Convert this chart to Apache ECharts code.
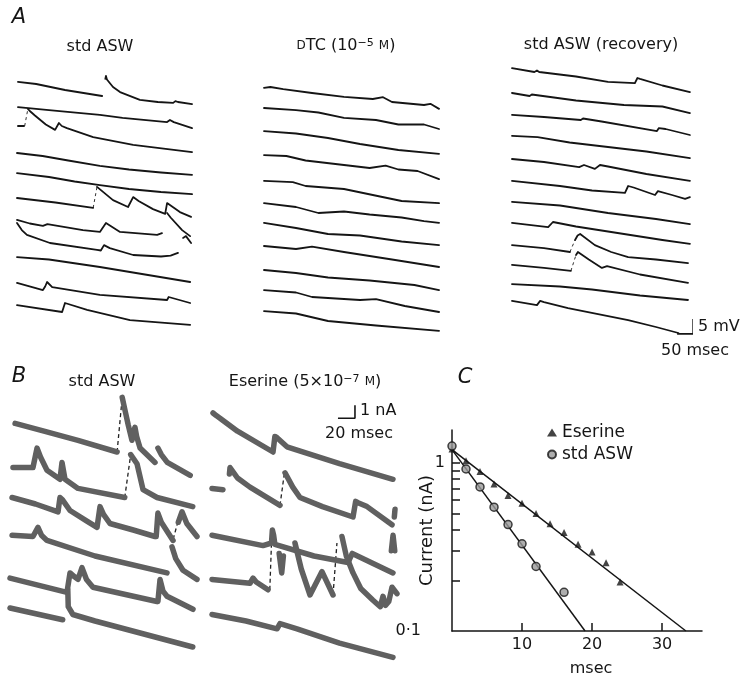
<!DOCTYPE html>
<html><head><meta charset="utf-8">
<script src="https://cdn.jsdelivr.net/npm/echarts@6/dist/echarts.min.js"></script>
<style>html,body{margin:0;padding:0;background:#fff}#c{width:747px;height:678px}</style>
</head><body><div id="c"></div><script>
// ---------- Panel A: membrane potential traces (x: msec, y: mV display level) ----------
const aStdTraces = [
  [[[3,92.7],[60,92],[150,90],[266,88]], [[276,93.7],[278,94.7],[281,93.5],[300,91],[322,89.3],[384,86.7],[440,86],[488,85.7],[495,86.3],[503,86],[547,85.3]]],
  [[[3,84.3],[100,83.3],[200,82.3],[259,81.7],[265,82.2],[330,80.7],[469,79.3],[478,80],[490,79.3],[547,77.3]]],
  [[[3,78],[22,78]], [[34,83.7],[40,83],[56,81.5],[90,78.5],[119,76.7],[125,77],[131,79],[140,78],[156,77.3],[238,74.3],[363,71.7],[547,69.3]]],
  [[[0,69],[80,68],[160,66.5],[259,64.7],[350,63.5],[450,62.5],[547,61.7]]],
  [[[0,62.3],[100,61],[180,59.5],[259,58.3],[350,57],[450,56],[547,55.3]]],
  [[[0,54],[120,52.5],[238,50.7]], [[250,57.7],[256,58],[300,53.3],[347,51],[363,54.3],[380,53],[425,50.3],[463,48.7],[469,52.3],[509,49.3],[544,47.7]]],
  [[[0,46.7],[40,45.5],[81,44.7],[95,45.3],[206,43.3],[259,42.7],[278,45.7],[322,42.7],[438,41.7],[453,42.3]], [[469,49],[480,47.5],[516,43.3],[541,41.3]]],
  [[[0,45.7],[15,43.3],[31,41.7],[103,39],[250,36.7],[262,36.5],[272,38.3],[290,37.3],[363,35],[450,34.5],[480,34.8],[503,35.7]], [[519,40.7],[528,41.3],[544,39]]],
  [[[0,34.3],[100,33.5],[259,31],[400,28.5],[541,26]]],
  [[[0,25.7],[81,23.3],[88,24.5],[94,26],[110,24.3],[259,21.7],[469,20],[474,21],[541,19]]],
  [[[0,18.3],[141,16],[150,19],[156,19],[219,16.7],[353,13.3],[541,11.7]]]
];
const aStdRises = [[[24,78],[34,83.7]], [[238,50.7],[250,57.7]]];

const aDtcTraces = [
  [[[0,90.7],[20,91],[60,90.3],[150,89],[250,87.7],[340,87],[372,87.6],[400,86],[500,85],[520,85.4],[547,83.7]]],
  [[[0,84],[100,83.3],[170,82.5],[250,80.7],[350,80],[420,78.5],[500,78.5],[547,77]]],
  [[[0,76.3],[100,75.5],[200,74],[300,72],[420,70],[547,68.7]]],
  [[[0,68.3],[70,68],[130,66.5],[250,65],[330,64],[380,64.8],[420,63.5],[480,63],[547,60.3]]],
  [[[0,59.7],[90,59.3],[130,58],[250,57],[340,55],[430,53],[547,52.3]]],
  [[[0,52.3],[100,51],[170,49],[250,49.5],[330,48.5],[430,47.5],[500,46.3],[547,45.7]]],
  [[[0,45.7],[100,44],[200,42],[300,41.5],[430,39.5],[547,38.3]]],
  [[[0,38],[100,37],[150,37.8],[250,36],[400,33.5],[547,31]]],
  [[[0,30],[100,29],[200,27.5],[330,26.5],[470,25],[547,23.3]]],
  [[[0,23.3],[100,22.5],[150,21],[300,20],[350,20.3],[440,18],[547,16]]],
  [[[0,16.3],[100,15.5],[200,13],[350,11.5],[547,9.7]]]
];

const aRecTraces = [
  [[[0,97.3],[70,96],[78,96.5],[85,96],[200,94.5],[300,92.7],[384,92.3],[392,94],[400,93.7],[470,91.5],[556,89.3]]],
  [[[0,89],[55,88],[62,88.5],[200,86.5],[350,85],[470,84.5],[556,82.3]]],
  [[[0,81.7],[100,81],[215,80],[222,80.5],[280,79.5],[453,76.3],[459,77.3],[480,77],[556,75]]],
  [[[0,74.7],[80,74.3],[180,72.5],[300,71],[420,69.5],[556,67.3]]],
  [[[0,67],[100,66],[210,64.3],[225,65],[259,63.7],[275,65],[300,64.5],[420,62],[556,59.7]]],
  [[[0,59.7],[150,58],[250,56.5],[353,55.7],[363,58],[380,57.5],[447,55],[456,56.3],[500,55],[541,53.7],[556,54.3]]],
  [[[0,52.7],[150,51.5],[300,49],[450,47],[556,45.3]]],
  [[[0,45.7],[113,44.3],[128,46],[200,44.5],[350,42],[470,40],[556,38.7]]],
  [[[0,38.3],[100,37.3],[181,36]], [[197,40],[205,41.5],[213,42],[259,38.3],[310,36],[363,34.3],[450,33.5],[550,32.3]]],
  [[[0,31.7],[100,30.7],[184,29.7]], [[200,35],[206,36],[240,33.5],[281,30.7],[297,31.3],[400,28.5],[550,25.7]]],
  [[[0,25.3],[150,24.5],[250,23.5],[400,21.5],[550,20]]],
  [[[0,19.7],[78,18.3],[88,19.7],[100,19.3],[175,17.3],[363,13.3],[450,11],[520,9]]]
];
const aRecRises = [[[181,36],[197,40]], [[184,29.7],[200,35]]];
const aScaleBar = [[516,8.7],[566,8.7],[566,13.7]];   // 50 msec, 5 mV

// ---------- Panel B: current traces (x: msec, y: nA display level) ----------
const bStdTraces = [
  [[[6,18.2],[40,17.6],[80,16.9],[126,16]], [[132,20.2],[136,19],[139,18.1],[143.5,16.9],[145,17.5],[147,17.9],[149,17.2],[153,16.3],[170.6,15.2]], [[174,16.3],[178,15.8],[185,15.2],[212,14.2]]],
  [[[3.5,14.8],[27,14.8],[31.8,16.3],[36,15.6],[43.5,14.6],[58.8,13.9],[61.2,15.2],[64.7,13.9],[80,13.2],[135,12.5]], [[142,15.8],[149.4,15.1],[156.5,13.1],[173,12.5],[215,11.8]]],
  [[[2.4,12.5],[30,12],[56.5,11.4],[58.8,12.5],[62,12.3],[70.6,11.5],[90,10.7],[102.4,10.2],[105.9,11.8],[110,11.2],[117.6,10.5],[145,10],[170.6,9.5]], [[172,9.5],[174,11.3],[178,10.6],[191.8,9.2]], [[198,10.6],[202.4,11.4],[208,10.5],[220,9.5]]],
  [[[2.4,9.6],[27,9.5],[32.9,10.2],[37,9.6],[43.5,9.2],[100,8],[184.7,6.7]], [[190.6,8.7],[195,7.8],[203.5,6.9],[220,6.2]]],
  [[[0,6.3],[67,5.2],[70.6,6.7],[76,6.4],[80,6.2],[84.7,7.1],[90,6.2],[97.6,5.6],[172.9,4.5]], [[174,4.5],[176.5,6.2],[180,5.3],[184.7,4.9],[215.3,3.9]]],
  [[[0,4],[62,3.1]], [[68,5.4],[68.5,4.1],[74,3.5],[100,3],[215,1]]]
];
const bStdRises = [[[126,16],[132,20.2]], [[135,12.5],[142,15.8]], [[192,9.3],[197,10.5]]];

const bEseTraces = [
  [[[1.2,19],[5,18.8],[9.4,18.6],[30,17.6],[71.8,16],[74,17.2],[76.5,17.1],[88.2,16.4],[150,15.1],[212.9,13.9]]],
  [[[0,13.2],[12.9,13.1]], [[20.5,14.3],[21.2,14.8],[30,14],[44.7,13.3],[80,11.9]], [[85.9,14.4],[95,13.3],[103.5,12.5],[130,11.8],[165.9,11],[169,12.2],[171.8,12.1],[182.4,11.8],[211.8,10.4]], [[214.5,11],[215.3,11.6]]],
  [[[0,9.6],[60,8.8],[70,9],[71,10],[72.5,9.6],[74,8.9],[120,8],[160,7.5],[165,8.2],[212.9,6.7]], [[211,8.4],[213,9.6],[215,8.4]]],
  [[[0,6.2],[44.7,5.9],[48.2,6.3],[52,6],[65.9,5.4]], [[79,8.2],[82,6.7],[84,8]], [[97.6,9],[105,7],[115.3,5],[129.4,6.8],[142.4,5]], [[152.9,9.5],[158,8],[165.9,6.7],[175,5.5],[189.4,4.6],[198,4.1],[201.2,4.9],[204,4.2],[208,4.5],[211.8,5.6],[217.6,5.1]]],
  [[[0,3.5],[40,3],[76.5,2.4],[80,2.8],[100,2.4],[150,1.3],[212.9,0.2]]]
];
const bEseRises = [[[80,11.9],[85,14.3]], [[68,5.4],[70,9]], [[142.4,5],[147,9]]];
const bScaleBar = [[148.2,18.6],[168.2,18.6],[168.2,19.6]];  // 20 msec, 1 nA

// ---------- Panel C: decay of current (log scale) ----------
const cEserineTime = [0,2,4,6,8,10,12,14,16,18,20,22,24];
const cEserineCurrent = [1.21,1.03,0.89,0.75,0.64,0.575,0.50,0.434,0.385,0.328,0.295,0.255,0.196];
const cStdTime = [0,2,4,6,8,10,12,16];
const cStdCurrent = [1.26,0.92,0.72,0.545,0.43,0.33,0.242,0.17];
const cEserineFit = [[0,1.2],[33.4,0.1]];
const cStdFit = [[0,1.2],[19,0.1]];
const cXTicks = [10,20,30];
const cYTicks = [0.2,0.3,0.4,0.5,0.6,0.7,0.8,0.9,1];
const cYLabels = [0.1,1];

// ---------------------------------------------------------------
const FONT = 'DejaVu Sans';
const INK = '#151515';
const chart = echarts.init(document.getElementById('c'), null, {renderer:'canvas'});

const hiddenX = (gi, max) => ({type:'value', gridIndex:gi, min:0, max:max, show:false});
const hiddenY = (gi, max) => ({type:'value', gridIndex:gi, min:0, max:max, show:false});

const series = [];
function addTraces(traces, gi, lineStyle) {
  traces.forEach(tr => tr.forEach(seg => series.push({
    type:'line', xAxisIndex:gi, yAxisIndex:gi, data:seg, symbol:'none', silent:true,
    clip:false, lineStyle:lineStyle, z:2
  })));
}
function addRises(rises, gi, lineStyle) {
  rises.forEach(seg => series.push({
    type:'line', xAxisIndex:gi, yAxisIndex:gi, data:seg, symbol:'none', silent:true,
    clip:false, lineStyle:lineStyle, z:1
  }));
}
const aStyle = {color:INK, width:1.8, cap:'round', join:'round'};
const aRise = {color:'#333', width:1, type:[3,3]};
const bStyle = {color:'#606060', width:5.5, cap:'round', join:'round'};
const bRise = {color:'#222', width:1.3, type:[4,3]};

addTraces(aStdTraces, 0, aStyle); addRises(aStdRises, 0, aRise);
addTraces(aDtcTraces, 1, aStyle);
addTraces(aRecTraces, 2, aStyle); addRises(aRecRises, 2, aRise);
series.push({type:'line', xAxisIndex:2, yAxisIndex:2, data:aScaleBar, symbol:'none', silent:true, clip:false,
  lineStyle:{color:INK, width:1.6}});
addTraces(bStdTraces, 3, bStyle); addRises(bStdRises, 3, bRise);
addTraces(bEseTraces, 4, bStyle); addRises(bEseRises, 4, bRise);
series.push({type:'line', xAxisIndex:4, yAxisIndex:4, data:bScaleBar, symbol:'none', silent:true, clip:false,
  lineStyle:{color:INK, width:1.6}});

series.push({type:'line', xAxisIndex:5, yAxisIndex:5, data:cEserineFit, symbol:'none', silent:true,
  lineStyle:{color:INK, width:1.5}, z:2});
series.push({type:'line', xAxisIndex:5, yAxisIndex:5, data:cStdFit, symbol:'none', silent:true,
  lineStyle:{color:INK, width:1.5}, z:2});
series.push({name:'Eserine', type:'scatter', xAxisIndex:5, yAxisIndex:5,
  data:cEserineTime.map((t,i)=>[t,cEserineCurrent[i]]), symbol:'triangle', symbolSize:7,
  itemStyle:{color:INK}, z:4});
series.push({name:'std ASW', type:'scatter', xAxisIndex:5, yAxisIndex:5,
  data:cStdTime.map((t,i)=>[t,cStdCurrent[i]]), symbol:'circle', symbolSize:8,
  itemStyle:{color:'#9a9a9a', borderColor:INK, borderWidth:1.5}, z:5});

const txt = (x, y, text, size, align, extra) => ({type:'text', x:x, y:y, silent:true,
  style:Object.assign({text:text, fill:INK, fontSize:size, fontFamily:FONT, align:align||'center', verticalAlign:'middle'}, extra||{})});

const option = {
  animation:false,
  backgroundColor:'#fff',
  textStyle:{fontFamily:FONT, color:INK},
  grid:[
    {left:17, top:60, width:179.2, height:300, outerBoundsMode:'none'},
    {left:264, top:60, width:179.2, height:300, outerBoundsMode:'none'},
    {left:512, top:60, width:179.2, height:300, outerBoundsMode:'none'},
    {left:10, top:374, width:191.25, height:286, outerBoundsMode:'none'},
    {left:212, top:374, width:191.25, height:286, outerBoundsMode:'none'},
    {left:452, top:430, width:250, height:201, outerBoundsMode:'none'}
  ],
  xAxis:[hiddenX(0,560), hiddenX(1,560), hiddenX(2,560), hiddenX(3,225), hiddenX(4,225),
    {type:'value', gridIndex:5, min:0, max:35.7,
      axisLine:{lineStyle:{color:INK, width:1.5}},
      axisTick:{inside:true, length:8, customValues:cXTicks, lineStyle:{color:INK, width:1.5}},
      axisLabel:{customValues:cXTicks, color:INK, fontSize:16, margin:6, fontFamily:FONT},
      splitLine:{show:false},
      name:'msec', nameLocation:'middle', nameGap:30, nameMoveOverlap:false,
      nameTextStyle:{fontSize:16, color:INK, fontFamily:FONT, padding:[0,0,0,28]}}
  ],
  yAxis:[hiddenY(0,100), hiddenY(1,100), hiddenY(2,100), hiddenY(3,22), hiddenY(4,22),
    {type:'log', logBase:10, gridIndex:5, min:0.1, max:1.57,
      axisLine:{show:true, lineStyle:{color:INK, width:1.5}},
      axisTick:{show:true, inside:true, length:8, customValues:cYTicks, lineStyle:{color:INK, width:1.5}},
      axisLabel:{customValues:cYLabels, color:INK, fontSize:16, margin:7, fontFamily:FONT,
        formatter:v => v < 0.5 ? '{a|0·1}' : '1',
        rich:{a:{fontSize:16, fontFamily:FONT, color:INK, padding:[0,24,0,0]}}},
      splitLine:{show:false},
      name:'Current (nA)', nameLocation:'middle', nameGap:16, nameMoveOverlap:false,
      nameTextStyle:{fontSize:18, color:INK, fontFamily:FONT}}
  ],
  legend:{data:['Eserine','std ASW'], orient:'vertical', left:542, top:419, itemWidth:10, itemHeight:8,
    itemGap:5, textStyle:{fontSize:17, color:INK, fontFamily:FONT}, selectedMode:false},
  series:series,
  graphic:[
    txt(19,18,'A',21,'center',{fontStyle:'italic'}),
    txt(100,47,'std ASW',16),
    txt(346,46,'{sc|D}{n|TC (10}{sup|−5}{n| }{sc|M}{n|)}',16,'center',{rich:{
      n:{fontSize:16, fontFamily:FONT, fill:INK},
      sc:{fontSize:12, fontFamily:FONT, fill:INK},
      sup:{fontSize:11, fontFamily:FONT, fill:INK, verticalAlign:'top'}}}),
    txt(601,45,'std ASW (recovery)',16),
    txt(698,327,'5 mV',16,'left'),
    txt(695,351,'50 msec',16),
    txt(19,377,'B',21,'center',{fontStyle:'italic'}),
    txt(102,382,'std ASW',16),
    txt(305,382,'{n|Eserine (5×10}{sup|−7}{n| }{sc|M}{n|)}',16,'center',{rich:{
      n:{fontSize:16, fontFamily:FONT, fill:INK},
      sc:{fontSize:12, fontFamily:FONT, fill:INK},
      sup:{fontSize:11, fontFamily:FONT, fill:INK, verticalAlign:'top'}}}),
    txt(360,411,'1 nA',16,'left'),
    txt(359,434,'20 msec',16),
    txt(465,378,'C',21,'center',{fontStyle:'italic'})
  ]
};
chart.setOption(option);
</script></body></html>
